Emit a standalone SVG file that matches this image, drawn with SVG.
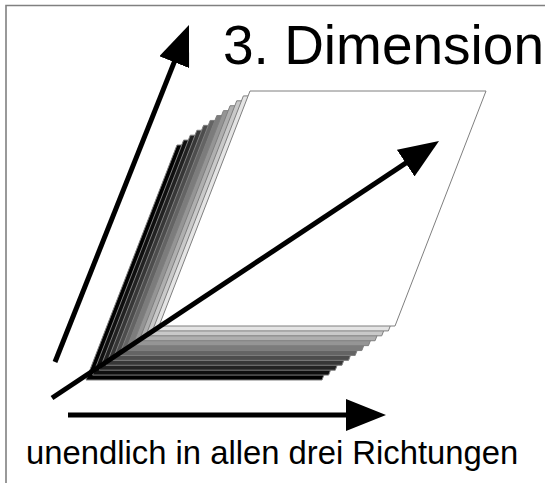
<svg xmlns="http://www.w3.org/2000/svg" xmlns:xlink="http://www.w3.org/1999/xlink" width="545" height="483" viewBox="0 0 545 483">
  <style>
    .frame { fill: none; stroke: #808080; stroke-width: 1.6; }
    .plane { stroke: #7f7f7f; stroke-width: 1; stroke-linejoin: miter; }
    .axis { fill: none; stroke: #000; stroke-width: 5; marker-end: url(#head); }
    .title { font-family: "Liberation Sans", Arial, sans-serif; font-size: 55px; fill: #000; }
    .caption { font-family: "Liberation Sans", Arial, sans-serif; font-size: 32.8px; fill: #000; }
  </style>
  <defs>
    <polygon id="sheet" points="250,91 486,91 395,326 159,326"/>
    <marker id="head" markerUnits="userSpaceOnUse" viewBox="0 0 40 32" refX="10" refY="16" markerWidth="40" markerHeight="32" orient="auto">
      <path d="M0,0 L40,16 L0,32 Z" fill="#000"/>
    </marker>
  </defs>
  <rect width="545" height="483" fill="#fff"/>
  <path class="frame" d="M6,483 V5.5 H545"/>

  <g id="planes">
    <use xlink:href="#sheet" class="plane" fill="#000000" transform="translate(-73,54)"/>
    <use xlink:href="#sheet" class="plane" fill="#0f0f0f" transform="translate(-66.36,49.09)"/>
    <use xlink:href="#sheet" class="plane" fill="#222222" transform="translate(-59.73,44.18)"/>
    <use xlink:href="#sheet" class="plane" fill="#373737" transform="translate(-53.09,39.27)"/>
    <use xlink:href="#sheet" class="plane" fill="#4d4d4d" transform="translate(-46.45,34.36)"/>
    <use xlink:href="#sheet" class="plane" fill="#646464" transform="translate(-39.82,29.45)"/>
    <use xlink:href="#sheet" class="plane" fill="#7c7c7c" transform="translate(-33.18,24.55)"/>
    <use xlink:href="#sheet" class="plane" fill="#959595" transform="translate(-26.55,19.64)"/>
    <use xlink:href="#sheet" class="plane" fill="#afafaf" transform="translate(-19.91,14.73)"/>
    <use xlink:href="#sheet" class="plane" fill="#c9c9c9" transform="translate(-13.27,9.82)"/>
    <use xlink:href="#sheet" class="plane" fill="#e4e4e4" transform="translate(-6.64,4.91)"/>
    <use xlink:href="#sheet" class="plane" fill="#ffffff"/>
  </g>

  <g id="connectors">
    <path class="axis" d="M55,362 L177.9,52.9"/>
    <path class="axis" d="M52,398 L414,157.6"/>
    <path class="axis" d="M68,415 L356,415"/>
  </g>

  <g id="title">
    <text class="title" x="223" y="64">3. Dimension</text>
  </g>
  <g id="caption">
    <text class="caption" x="26" y="464">unendlich in allen drei Richtungen</text>
  </g>
</svg>
